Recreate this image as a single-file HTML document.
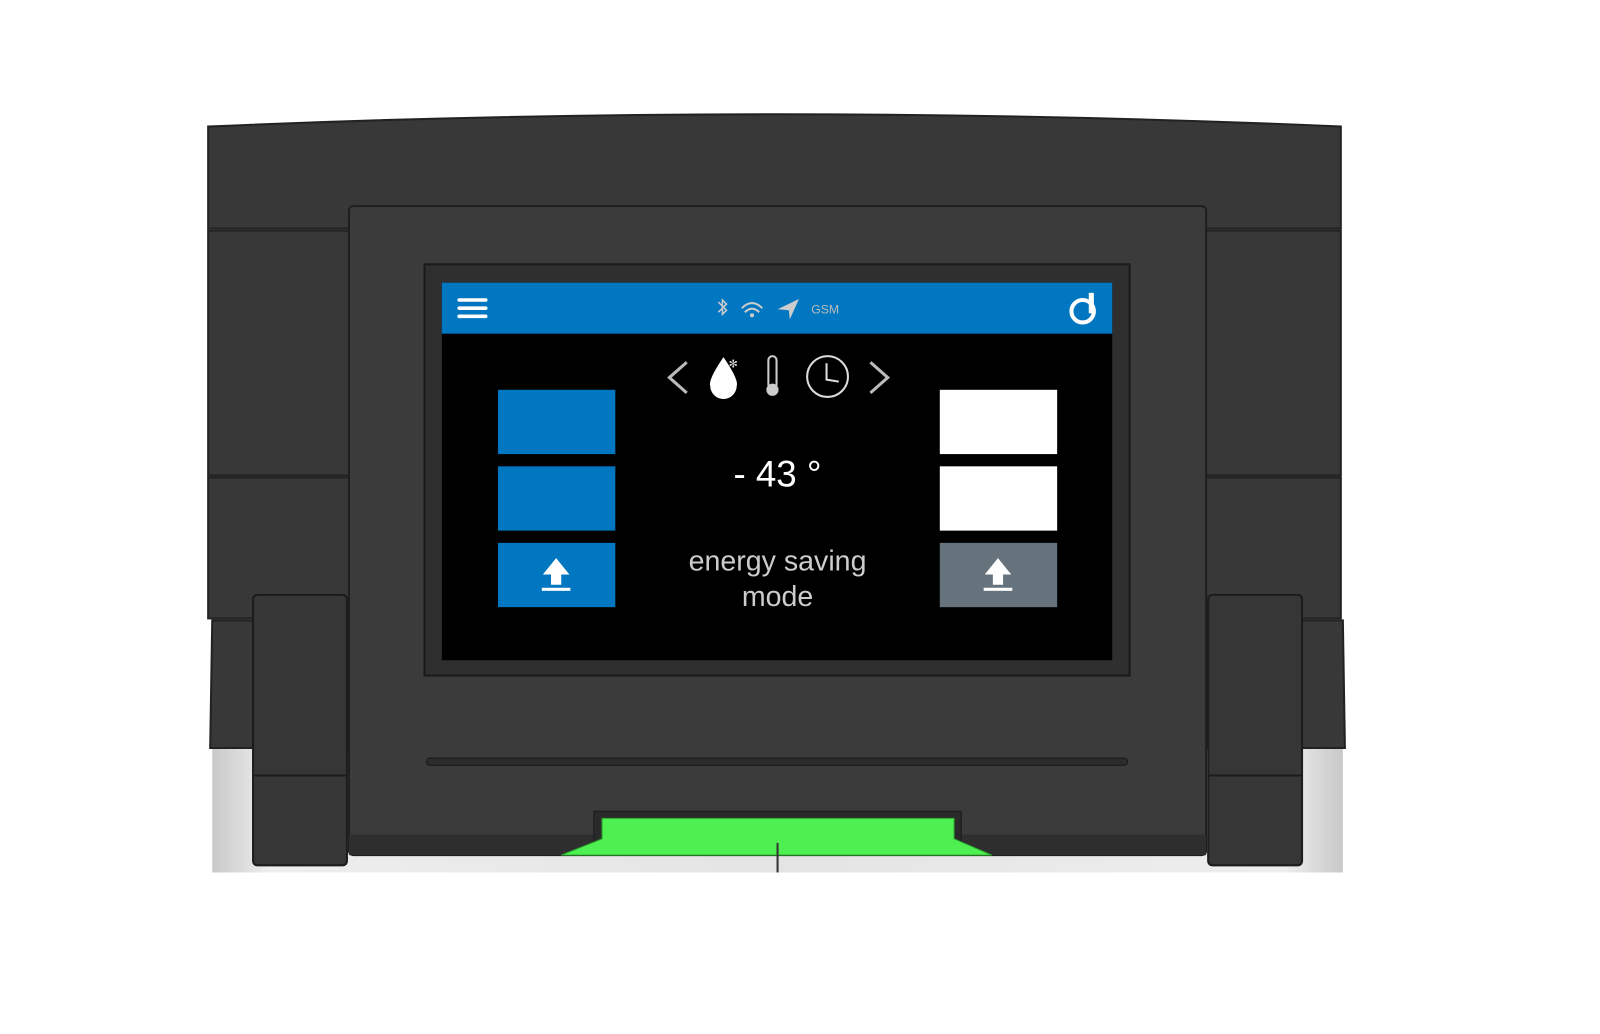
<!DOCTYPE html>
<html><head><style>
body{margin:0;width:1600px;height:1034px;background:#fff;position:relative;overflow:hidden;font-family:"Liberation Sans",sans-serif}
svg{position:absolute;left:0;top:0}
</style></head><body>
<svg width="1600" height="1034" viewBox="0 0 1568 1013.3" preserveAspectRatio="none">
<defs><linearGradient id="s" x1="0" x2="1"><stop offset="0" stop-color="#c8c8c8"/><stop offset="0.05" stop-color="#eee"/><stop offset="0.5" stop-color="#e4e4e4"/><stop offset="0.95" stop-color="#eee"/><stop offset="1" stop-color="#c8c8c8"/></linearGradient></defs>
<rect x="208" y="730" width="1108" height="125" fill="url(#s)"/>
<path d="M204 124 Q760 100 1314 124 L1314 224 L204 224 Z" fill="#383838" stroke="#222" stroke-width="2"/>
<rect x="204" y="226" width="1110" height="240" fill="#383838" stroke="#222" stroke-width="2"/>
<rect x="204" y="468" width="1110" height="138" fill="#383838" stroke="#222" stroke-width="2"/>
<path d="M208 608 L1316 608 L1318 733 L206 733 Z" fill="#383838" stroke="#222" stroke-width="2"/>
<rect x="248" y="583" width="92" height="265" rx="4" fill="#363636" stroke="#1c1c1c" stroke-width="2"/>
<line x1="248" y1="760" x2="340" y2="760" stroke="#1c1c1c" stroke-width="2"/>
<rect x="1184" y="583" width="92" height="265" rx="4" fill="#363636" stroke="#1c1c1c" stroke-width="2"/>
<line x1="1184" y1="760" x2="1276" y2="760" stroke="#1c1c1c" stroke-width="2"/>
<rect x="342" y="202" width="840" height="636" rx="4" fill="#3b3b3b" stroke="#1f1f1f" stroke-width="2"/>
<rect x="342" y="818" width="840" height="20" fill="#2e2e2e"/>
<rect x="416" y="259" width="691" height="403" fill="#2f2f2f" stroke="#1a1a1a" stroke-width="2"/>
<rect x="433" y="277" width="657" height="370" fill="#000"/>
<rect x="418" y="743" width="687" height="7" rx="3" fill="#2c2c2c" stroke="#1a1a1a"/>
<rect x="582" y="795" width="360" height="30" fill="#2a2a2a" stroke="#1a1a1a"/>
<path d="M590 802 L935 802 L935 822 L972 838 L550 838 L590 822 Z" fill="#4df050" stroke="#2aa52c"/>
<line x1="762" y1="826" x2="762" y2="855" stroke="#333" stroke-width="2"/>
<rect x="433" y="277" width="657" height="50" fill="#0077c0"/>
<g stroke="#fff" stroke-width="3.5" stroke-linecap="round"><line x1="450" y1="294" x2="476" y2="294"/><line x1="450" y1="302" x2="476" y2="302"/><line x1="450" y1="310" x2="476" y2="310"/></g>
<path d="M704 296 L712 304 L708 308 L708 294 L712 298 L704 306" fill="none" stroke="#ccc" stroke-width="1.5"/>
<g fill="none" stroke="#ccc" stroke-width="2"><path d="M727 302 Q737 292 747 302"/><path d="M730 306 Q737 299 744 306"/></g>
<circle cx="737" cy="309" r="2" fill="#ccc"/>
<path d="M762 303 L783 293 L774 313 L773 304 Z" fill="#ccc"/>
<text x="795" y="307" fill="#bbb" font-size="12">GSM</text>
<circle cx="1061" cy="305" r="11" fill="none" stroke="#fff" stroke-width="4"/>
<rect x="1067" y="287" width="5" height="20" fill="#fff"/>
<path d="M673 355 L656 370 L673 385" fill="none" stroke="#bbb" stroke-width="3"/>
<path d="M853 355 L870 370 L853 385" fill="none" stroke="#bbb" stroke-width="3"/>
<path d="M709 350 Q694 372 696 378 A13 13 0 0 0 722 378 Q724 372 709 350 Z" fill="#fff"/>
<text x="714" y="360" fill="#ddd" font-size="11">✻</text>
<rect x="753" y="349" width="8" height="32" rx="4" fill="none" stroke="#ccc" stroke-width="2"/>
<circle cx="757" cy="382" r="6" fill="#ccc"/>
<circle cx="811" cy="369" r="20" fill="none" stroke="#ddd" stroke-width="2"/>
<path d="M810 356 L810 372 L822 374" fill="none" stroke="#ddd" stroke-width="2"/>
<rect x="488" y="382" width="115" height="63" fill="#0077c0"/>
<rect x="488" y="457" width="115" height="63" fill="#0077c0"/>
<rect x="488" y="532" width="115" height="63" fill="#0077c0"/>
<rect x="921" y="382" width="115" height="63" fill="#fff"/>
<rect x="921" y="457" width="115" height="63" fill="#fff"/>
<rect x="921" y="532" width="115" height="63" fill="#66737c"/>
<g fill="#fff"><path d="M545 547 L558 563 L550 563 L550 573 L540 573 L540 563 L532 563 Z"/><rect x="531" y="576" width="28" height="3"/>
<path d="M978 547 L991 563 L983 563 L983 573 L973 573 L973 563 L965 563 Z"/><rect x="964" y="576" width="28" height="3"/></g>
<text x="762" y="477" fill="#fff" font-size="36" text-anchor="middle">- 43 °</text>
<text x="762" y="559" fill="#ccc" font-size="28" text-anchor="middle">energy saving</text>
<text x="762" y="594" fill="#ccc" font-size="28" text-anchor="middle">mode</text>
</svg>
</body></html>
